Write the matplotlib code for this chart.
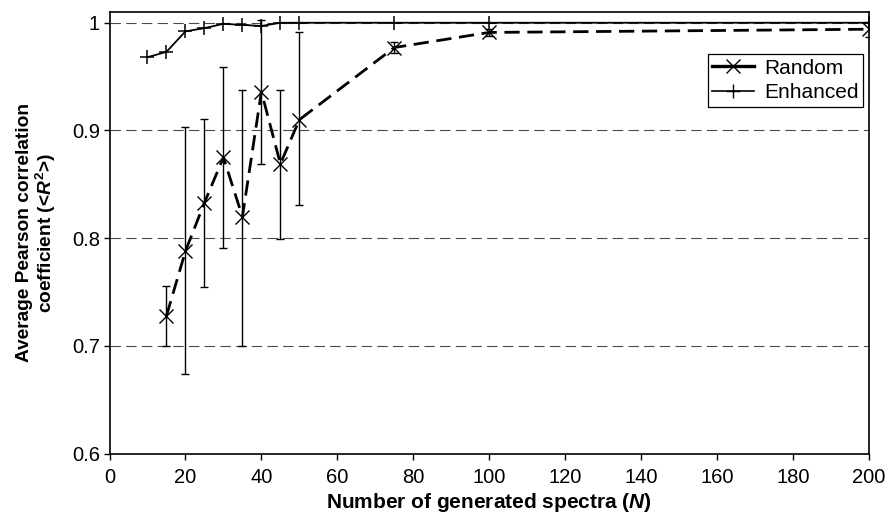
import matplotlib
matplotlib.use("Agg")
import matplotlib.pyplot as plt
from matplotlib.lines import Line2D

plt.rcParams['font.family'] = ['Liberation Sans', 'DejaVu Sans']
plt.rcParams['mathtext.fontset'] = 'custom'
plt.rcParams['mathtext.rm'] = 'Liberation Sans:bold'
plt.rcParams['mathtext.it'] = 'Liberation Sans:italic:bold'
plt.rcParams['mathtext.bf'] = 'Liberation Sans:bold'
plt.rcParams['lines.scale_dashes'] = False

# Data
random_n = [15, 20, 25, 30, 35, 40, 45, 50, 75, 100, 200]
random_r2 = [0.728, 0.788, 0.833, 0.875, 0.820, 0.936, 0.869, 0.910, 0.977, 0.991, 0.994]
random_err_hi = [0.756, 0.903, 0.911, 0.959, 0.938, 1.003, 0.938, 0.991, 0.982, 0.994, 1.001]
random_err_lo = [0.700, 0.674, 0.755, 0.791, 0.700, 0.869, 0.799, 0.831, 0.972, 0.988, 0.987]

enh_n = [10, 15, 20, 25, 30, 35, 40, 45, 50, 75, 100, 200]
enh_r2 = [0.968, 0.973, 0.992, 0.995, 0.999, 0.998, 0.997, 1.0, 1.0, 1.0, 1.0, 1.0]

x_ticks = [0, 20, 40, 60, 80, 100, 120, 140, 160, 180, 200]
y_ticks = [0.6, 0.7, 0.8, 0.9, 1.0]
y_tick_labels = ['0.6', '0.7', '0.8', '0.9', '1']

fig = plt.figure(figsize=(8.89, 5.17), dpi=100)
ax = fig.add_axes([109.5 / 889, 1 - 453.7 / 517, (869 - 109.5) / 889, (453.7 - 12.3) / 517])

ax.set_xlim(0, 200)
ax.set_ylim(0.6, 1.0097)

for yv in y_ticks[1:]:
    ax.axhline(yv, color='#4a4a4a', lw=0.8, linestyle=(0, (7.5, 3.8)), zorder=1)

yerr_lo = [v - l for v, l in zip(random_r2, random_err_lo)]
yerr_hi = [h - v for v, h in zip(random_r2, random_err_hi)]
ax.errorbar(random_n, random_r2, yerr=[yerr_lo, yerr_hi], fmt='none', ecolor='black',
            elinewidth=1.0, capsize=3.0, capthick=1.0, zorder=2)

ax.plot(enh_n, enh_r2, color='black', lw=1.3, marker='+', markersize=9.5,
        markeredgewidth=1.1, zorder=3)
ax.plot(random_n, random_r2, color='black', lw=2.0, dashes=(11, 5.5), marker='x',
        markersize=9.5, markeredgewidth=1.0, zorder=4)

ax.set_xticks(x_ticks)
ax.set_yticks(y_ticks)
ax.set_yticklabels(y_tick_labels)
ax.tick_params(axis='both', direction='out', length=4, width=1, labelsize=14.5, colors='black')
ax.tick_params(axis='x', pad=6)
ax.tick_params(axis='y', pad=3)
for s in ax.spines.values():
    s.set_linewidth(1.2)
    s.set_color('black')

ax.set_xlabel(r'Number of generated spectra ($\mathit{N}$)', fontsize=15, fontweight='bold')
ax.xaxis.label.set_va('bottom')
ax.xaxis.set_label_coords(0.5, -(513 - 453.7 + 1) / 441.4)

ax.set_ylabel('Average Pearson correlation\n' + r'coefficient (<$\mathit{R}^{2}$>)',
              fontsize=13.8, fontweight='bold', linespacing=1.05)
ax.yaxis.label.set_va('center')
ax.yaxis.set_label_coords(-(109.5 - 37) / 759.5, 0.5)

handles = [Line2D([], [], color='black', lw=2.4, marker='x', markersize=9.5, markeredgewidth=1.0),
           Line2D([], [], color='black', lw=1.2, marker='+', markersize=10.5, markeredgewidth=1.0)]
leg = ax.legend(handles, ['Random', 'Enhanced'], loc='upper right', bbox_to_anchor=(0.992, 0.9045),
                fontsize=15, frameon=True, fancybox=False, edgecolor='black', framealpha=1,
                handlelength=2.0, handletextpad=0.5, borderpad=0.2, labelspacing=0.28,
                borderaxespad=0)
leg.get_frame().set_linewidth(0.9)

fig.savefig('out.png', dpi=100)
